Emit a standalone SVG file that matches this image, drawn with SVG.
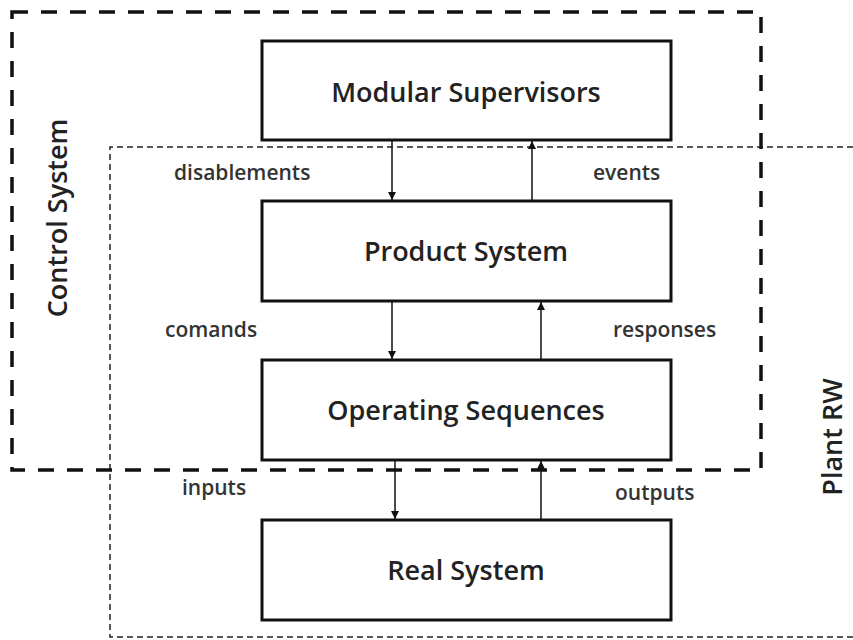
<svg xmlns="http://www.w3.org/2000/svg" width="853" height="640" viewBox="0 0 853 640">
<defs>
<marker id="ah" viewBox="0 0 10 10" refX="10" refY="5" markerWidth="8" markerHeight="8" markerUnits="userSpaceOnUse" orient="auto">
<path d="M0,0 L10,5 L0,10 z" fill="#111"/>
</marker>
<style>
.node rect{fill:#fff;stroke:#111;stroke-width:3}
.title{font-family:"Open Sans","Liberation Sans",sans-serif;font-weight:600;font-size:27px;fill:#222;text-anchor:middle}
.lbl{font-family:"Open Sans","Liberation Sans",sans-serif;font-weight:600;font-size:21px;fill:#333}
.grp{font-family:"Open Sans","Liberation Sans",sans-serif;font-weight:600;font-size:27px;fill:#222;text-anchor:middle}
.conn line{stroke:#111;stroke-width:1.5;marker-end:url(#ah)}
</style>
</defs>
<rect width="853" height="640" fill="#fff"/>
<g id="plant-rw">
<path d="M853,147 L110,147 L110,637 L853,637" fill="none" stroke="#222" stroke-width="1.5" stroke-dasharray="6,4"/>
<text class="grp" transform="translate(842,437) rotate(-90)">Plant RW</text>
</g>
<g id="control-system">
<rect x="12" y="12" width="749" height="458" fill="none" stroke="#111" stroke-width="3.5" stroke-dasharray="16,13"/>
<text class="grp" transform="translate(67,218) rotate(-90)">Control System</text>
</g>
<g id="modular-supervisors" class="node">
<rect x="262" y="41" width="409" height="99"/>
<text class="title" x="466" y="102">Modular Supervisors</text>
</g>
<g id="product-system" class="node">
<rect x="262" y="201" width="409" height="100"/>
<text class="title" x="466" y="261">Product System</text>
</g>
<g id="operating-sequences" class="node">
<rect x="262" y="360" width="409" height="100"/>
<text class="title" x="466" y="420">Operating Sequences</text>
</g>
<g id="real-system" class="node">
<rect x="262" y="520" width="409" height="100"/>
<text class="title" x="466" y="580">Real System</text>
</g>
<g id="connectors" class="conn">
<line x1="392" y1="141" x2="392" y2="200"/>
<line x1="532" y1="200" x2="532" y2="141"/>
<line x1="392" y1="302" x2="392" y2="359"/>
<line x1="541" y1="359" x2="541" y2="302"/>
<line x1="395" y1="461" x2="395" y2="519"/>
<line x1="541" y1="519" x2="541" y2="461"/>
</g>
<g id="labels">
<text class="lbl" x="174" y="180">disablements</text>
<text class="lbl" x="593" y="180">events</text>
<text class="lbl" x="165" y="337">comands</text>
<text class="lbl" x="613" y="337">responses</text>
<text class="lbl" x="182" y="495">inputs</text>
<text class="lbl" x="615" y="500">outputs</text>
</g>
</svg>
